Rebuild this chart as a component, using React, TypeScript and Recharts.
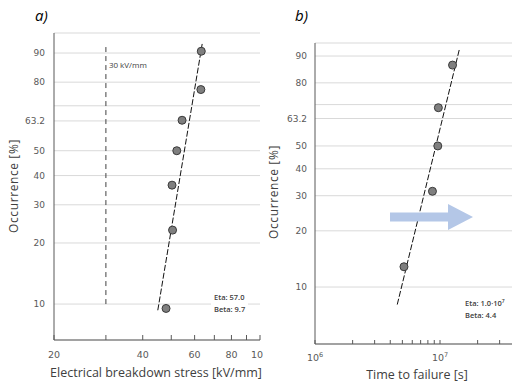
import React from "react";
import { ScatterChart, Scatter, XAxis, YAxis, CartesianGrid, ReferenceLine } from "recharts";

// Weibull probability paper: plotted y = ln(-ln(1 - F))
const wb = (p: number) => Math.log(-Math.log(1 - p / 100));

// a) breakdown stress
const stressKV = [48.0, 50.5, 50.3, 52.2, 54.4, 63.0, 63.2];
const stressOcc = [9.5, 23.0, 36.5, 50.0, 63.5, 77.0, 90.5];
const stressFitKV = [45.0, 63.8];
const stressFitOcc = [9.3, 92.8];
const limitKV = 30;
const limitOcc = [10, 92];
const stressTicks = [20, 30, 40, 50, 60, 70, 80, 90, 100];
const stressTickLabels = ["20", "", "40", "", "60", "", "80", "", "100"];

// b) time to failure
const timeS = [5.15e6, 8.7e6, 9.6e6, 9.7e6, 1.26e7];
const timeOcc = [12.9, 31.5, 50.0, 68.5, 87.0];
const timeFitS = [4.55e6, 1.43e7];
const timeFitOcc = [8.0, 92.0];
const timeTicks = [
    1e6, 2e6, 3e6, 4e6, 5e6, 6e6, 7e6, 8e6, 9e6,
    1e7, 2e7, 3e7, 4e7, 5e7, 6e7, 7e7, 8e7, 9e7, 1e8,
];
const timeTickExp = ["6", "", "", "", "", "", "", "", "", "7", "", "", "", "", "", "", "", "", "8"];

// shared y axis
const occTicks = [10, 20, 30, 40, 50, 63.2, 70, 80, 90];
const occTickLabels = ["10", "20", "30", "40", "50", "63.2", "", "80", "90"];

const FONT = "'DejaVu Sans', Verdana, sans-serif";
const TITLE_FONT = "'Open Sans', sans-serif";
const AXIS = "#595959";
const GRID = "#d9d9d9";

const occY = occTicks.map(wb);
const occFormat = (v: number) => {
    const i = occY.findIndex((t) => Math.abs(t - v) < 1e-6);
    return i >= 0 ? occTickLabels[i] : "";
};

const pointsA = stressKV.map((x, i) => ({ x, y: wb(stressOcc[i]) }));
const fitA = stressFitKV.map((x, i) => ({ x, y: wb(stressFitOcc[i]) }));
const pointsB = timeS.map((x, i) => ({ x, y: wb(timeOcc[i]) }));
const fitB = timeFitS.map((x, i) => ({ x, y: wb(timeFitOcc[i]) }));

const Dot = (p: any) => (
    <circle cx={p.cx} cy={p.cy} r={4} fill="#7f7f7f" stroke="#3a3a3a" strokeWidth={1} />
);
const NoDot = () => <g />;

const yTick = (p: any) => (
    <text x={p.x} y={p.y} dy="0.35em" textAnchor="end" fill={AXIS} fontSize={9} fontFamily={FONT}>
        {occFormat(p.payload.value)}
    </text>
);

const stressTick = (p: any) => {
    const i = stressTicks.findIndex((t) => Math.abs(t - p.payload.value) < 1e-6);
    return (
        <g>
            <line x1={p.x} y1={p.y} x2={p.x} y2={p.y - 5} stroke={AXIS} />
            <text x={p.x} y={p.y + 18} textAnchor="middle" fill={AXIS} fontSize={9.5} fontFamily={FONT}>
                {stressTickLabels[i]}
            </text>
        </g>
    );
};

const timeTick = (p: any) => {
    const i = timeTicks.findIndex((t) => Math.abs(t - p.payload.value) / t < 1e-6);
    const exp = timeTickExp[i];
    return (
        <g>
            <line x1={p.x} y1={p.y} x2={p.x} y2={p.y - 4} stroke={AXIS} />
            {exp && (
                <text x={p.x} y={p.y + 17} textAnchor="middle" fill={AXIS} fontSize={9.5} fontFamily={FONT}>
                    10<tspan dy={-4} fontSize={6.5}>{exp}</tspan>
                </text>
            )}
        </g>
    );
};

const yTitle = (x: number, y: number) => () => (
    <text
        transform={`translate(${x},${y}) rotate(-90)`}
        textAnchor="middle"
        dy="0.35em"
        fill="#404040"
        fontSize={12}
        letterSpacing={0.6}
        fontFamily={TITLE_FONT}
    >
        Occurrence [%]
    </text>
);

const xTitle = (x: number, y: number, value: string) => () => (
    <text x={x} y={y} textAnchor="middle" fill="#404040" fontSize={12.5} fontFamily={TITLE_FONT}>
        {value}
    </text>
);

const limitLabel = (p: any) => (
    <text x={p.viewBox.x + 3} y={p.viewBox.y + 23} fill="#404040" fontSize={8} fontFamily={TITLE_FONT}>
        {`${limitKV} kV/mm`}
    </text>
);

const etaBox: React.CSSProperties = {
    position: "absolute",
    background: "#fff",
    color: "#404040",
    fontFamily: TITLE_FONT,
    fontWeight: 600,
    fontSize: 7.5,
    lineHeight: "12px",
    padding: "0 3px",
};

export default function App() {
    return (
        <div
            style={{
                position: "absolute",
                left: 0,
                top: 0,
                width: 512,
                height: 382,
                background: "#fff",
                overflow: "hidden",
                fontFamily: FONT,
            }}
        >
            <div style={{ position: "absolute", left: 0, top: 0, width: 263, height: 382, overflow: "hidden" }}>
                <ScatterChart width={263} height={382} margin={{ top: 33, right: 3, bottom: 0, left: 0 }}>
                    <CartesianGrid vertical={false} stroke={GRID} />
                    <XAxis
                        type="number"
                        dataKey="x"
                        scale="log"
                        domain={[20, 100]}
                        ticks={stressTicks}
                        interval={0}
                        allowDataOverflow
                        height={42}
                        stroke={AXIS}
                        tickSize={0}
                        tickMargin={0}
                        tickLine={false}
                        tick={stressTick}
                        label={xTitle(156, 377, "Electrical breakdown stress [kV/mm]")}
                    />
                    <YAxis
                        type="number"
                        dataKey="y"
                        domain={[-2.692, 1.08]}
                        ticks={occY}
                        interval={0}
                        allowDataOverflow
                        width={54}
                        stroke={AXIS}
                        tickSize={0}
                        tickMargin={9}
                        tickLine={false}
                        tick={yTick}
                        label={yTitle(14, 186)}
                    />
                    <ReferenceLine
                        segment={[
                            { x: limitKV, y: wb(limitOcc[0]) },
                            { x: limitKV, y: wb(limitOcc[1]) },
                        ]}
                        stroke="#404040"
                        strokeDasharray="5 4"
                        label={limitLabel}
                    />
                    <Scatter
                        data={fitA}
                        line={{ stroke: "#111", strokeWidth: 1, strokeDasharray: "6 2" }}
                        shape={NoDot}
                        isAnimationActive={false}
                    />
                    <Scatter data={pointsA} shape={Dot} isAnimationActive={false} />
                </ScatterChart>
            </div>

            <div style={{ position: "absolute", left: 263, top: 0, width: 249, height: 382, overflow: "hidden" }}>
                <ScatterChart width={310} height={382} margin={{ top: 43, right: 8, bottom: 0, left: 0 }}>
                    <CartesianGrid vertical={false} stroke={GRID} />
                    <XAxis
                        type="number"
                        dataKey="x"
                        scale="log"
                        domain={[1e6, 1e8]}
                        ticks={timeTicks}
                        interval={0}
                        allowDataOverflow
                        height={38}
                        stroke={AXIS}
                        tickSize={0}
                        tickMargin={0}
                        tickLine={false}
                        tick={timeTick}
                        label={xTitle(154, 379, "Time to failure [s]")}
                    />
                    <YAxis
                        type="number"
                        dataKey="y"
                        domain={[-3.011, 1.008]}
                        ticks={occY}
                        interval={0}
                        allowDataOverflow
                        width={52}
                        stroke={AXIS}
                        tickSize={0}
                        tickMargin={8}
                        tickLine={false}
                        tick={yTick}
                        label={yTitle(11, 192)}
                    />
                    <Scatter
                        data={fitB}
                        line={{ stroke: "#111", strokeWidth: 1, strokeDasharray: "6 2" }}
                        shape={NoDot}
                        isAnimationActive={false}
                    />
                    <Scatter data={pointsB} shape={Dot} isAnimationActive={false} />
                </ScatterChart>
            </div>

            {/* arrow annotation on panel b */}
            <svg style={{ position: "absolute", left: 0, top: 0 }} width={512} height={382}>
                <polygon
                    points="390,212.5 448,212.5 448,204 473,217 448,230 448,221.5 390,221.5"
                    fill="#b4c7e7"
                />
            </svg>

            <div style={{ position: "absolute", left: 35, top: 5, fontSize: 15, fontStyle: "italic", fontFamily: TITLE_FONT }}>
                a)
            </div>
            <div style={{ position: "absolute", left: 295, top: 5, fontSize: 15, fontStyle: "italic", fontFamily: TITLE_FONT }}>
                b)
            </div>

            <div style={{ ...etaBox, left: 211, top: 291 }}>
                <div>Eta: 57.0</div>
                <div>Beta: 9.7</div>
            </div>
            <div style={{ ...etaBox, left: 462, top: 297 }}>
                <div>
                    Eta: 1.0·10<sup style={{ fontSize: 5, verticalAlign: "top", lineHeight: "8px" }}>7</sup>
                </div>
                <div>Beta: 4.4</div>
            </div>
        </div>
    );
}
